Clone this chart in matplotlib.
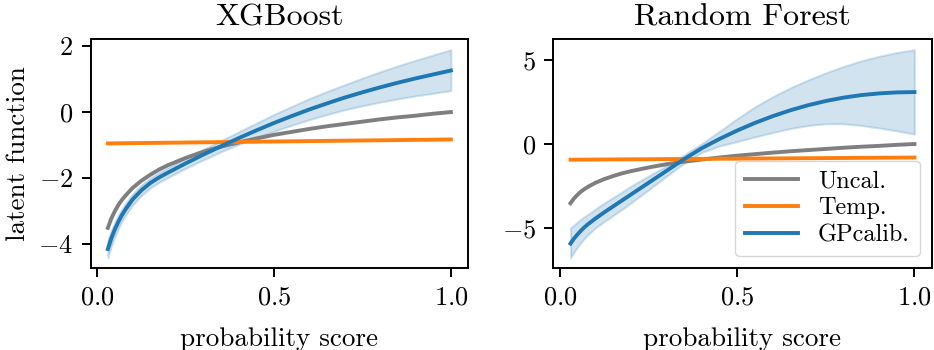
import numpy as np
import matplotlib
matplotlib.use('Agg')
import matplotlib.pyplot as plt

plt.rcParams['font.family'] = 'serif'
plt.rcParams['font.serif'] = ['cmr10']
plt.rcParams['mathtext.fontset'] = 'cm'
plt.rcParams['axes.formatter.use_mathtext'] = True
plt.rcParams['axes.unicode_minus'] = True

# probability score grid
p = [0.03, 0.04, 0.05, 0.06, 0.07, 0.08, 0.1, 0.125, 0.15, 0.175, 0.2, 0.25,
     0.3, 0.35, 0.4, 0.45, 0.5, 0.55, 0.6, 0.65, 0.7, 0.75, 0.8, 0.85, 0.9,
     0.95, 1.0]

uncal = [-3.51, -3.22, -3.0, -2.81, -2.66, -2.53, -2.3, -2.08, -1.9, -1.74,
         -1.61, -1.39, -1.2, -1.05, -0.92, -0.8, -0.69, -0.6, -0.51, -0.43,
         -0.36, -0.29, -0.22, -0.16, -0.11, -0.05, 0.0]

temp_p = [0.03, 1.0]
xgb_temp = [-0.95, -0.83]
rf_temp = [-0.93, -0.80]

xgb_gp = [-4.15, -3.82, -3.55, -3.32, -3.12, -2.95, -2.65, -2.37, -2.15, -1.98,
          -1.835, -1.555, -1.29, -1.035, -0.79, -0.555, -0.33, -0.12, 0.08,
          0.265, 0.44, 0.6, 0.75, 0.89, 1.02, 1.14, 1.26]
xgb_upper = [-3.88, -3.58, -3.33, -3.12, -2.93, -2.77, -2.48, -2.21, -2.0, -1.83,
             -1.685, -1.405, -1.13, -0.865, -0.6, -0.335, -0.07, 0.17, 0.41,
             0.625, 0.83, 1.03, 1.22, 1.4, 1.57, 1.73, 1.89]
xgb_lower = [-4.42, -4.06, -3.77, -3.52, -3.31, -3.13, -2.82, -2.53, -2.3, -2.13,
             -1.985, -1.705, -1.45, -1.205, -0.98, -0.775, -0.58, -0.4, -0.23,
             -0.075, 0.07, 0.19, 0.3, 0.4, 0.49, 0.57, 0.65]

rf_gp = [-5.9, -5.6, -5.35, -5.12, -4.92, -4.74, -4.42, -4.05, -3.7, -3.35,
         -3.0, -2.3, -1.6, -0.9, -0.25, 0.3, 0.8, 1.25, 1.65, 2.0, 2.3, 2.55,
         2.75, 2.9, 3.0, 3.06, 3.08]
rf_upper = [-4.98, -4.8, -4.62, -4.45, -4.3, -4.15, -3.86, -3.5, -3.17, -2.84,
            -2.5, -1.9, -1.3, -0.65, 0.02, 0.75, 1.5, 2.2, 2.8, 3.33, 3.8, 4.22,
            4.6, 4.93, 5.2, 5.42, 5.59]
rf_lower = [-6.75, -6.4, -6.1, -5.82, -5.58, -5.36, -4.98, -4.6, -4.24, -3.88,
            -3.5, -2.72, -1.92, -1.15, -0.5, -0.12, 0.15, 0.42, 0.68, 0.92, 1.1,
            1.2, 1.2, 1.1, 0.95, 0.78, 0.59]

panels = [
    ('XGBoost', xgb_temp, xgb_gp, xgb_upper, xgb_lower),
    ('Random Forest', rf_temp, rf_gp, rf_upper, rf_lower),
]

fig = plt.figure(figsize=(9.34, 3.5), dpi=100)
rects = [[0.0971, 0.2334, 0.404, 0.6543], [0.5924, 0.2334, 0.4051, 0.6543]]

lw = 2.8
for i, (title, temp, gp, up, lo) in enumerate(panels):
    ax = fig.add_axes(rects[i])
    ax.plot(p, uncal, color='tab:gray', linewidth=lw, label='Uncal.')
    ax.plot(temp_p, temp, color='tab:orange', linewidth=lw, label='Temp.')
    ax.plot(p, gp, color='tab:blue', linewidth=lw, label='GPcalib.')
    ax.fill_between(p, lo, up, facecolor='tab:blue', alpha=0.2,
                    edgecolor='tab:blue', linewidth=1.5)
    ax.set_title(title, fontsize=23, pad=10)
    ax.set_xlabel('probability score', fontsize=19.5, labelpad=13)
    ax.set_xticks([0.0, 0.5, 1.0])
    ax.tick_params(labelsize=19, length=6.5, width=1.4, pad=6)
    for s in ax.spines.values():
        s.set_linewidth(1.4)
    if i == 0:
        ax.set_ylabel('latent function', fontsize=19.5, labelpad=6)
    else:
        ax.legend(loc='lower right', fontsize=17.5, labelspacing=0.2,
                  handlelength=2.2)

plt.savefig('out.png', dpi=100)
